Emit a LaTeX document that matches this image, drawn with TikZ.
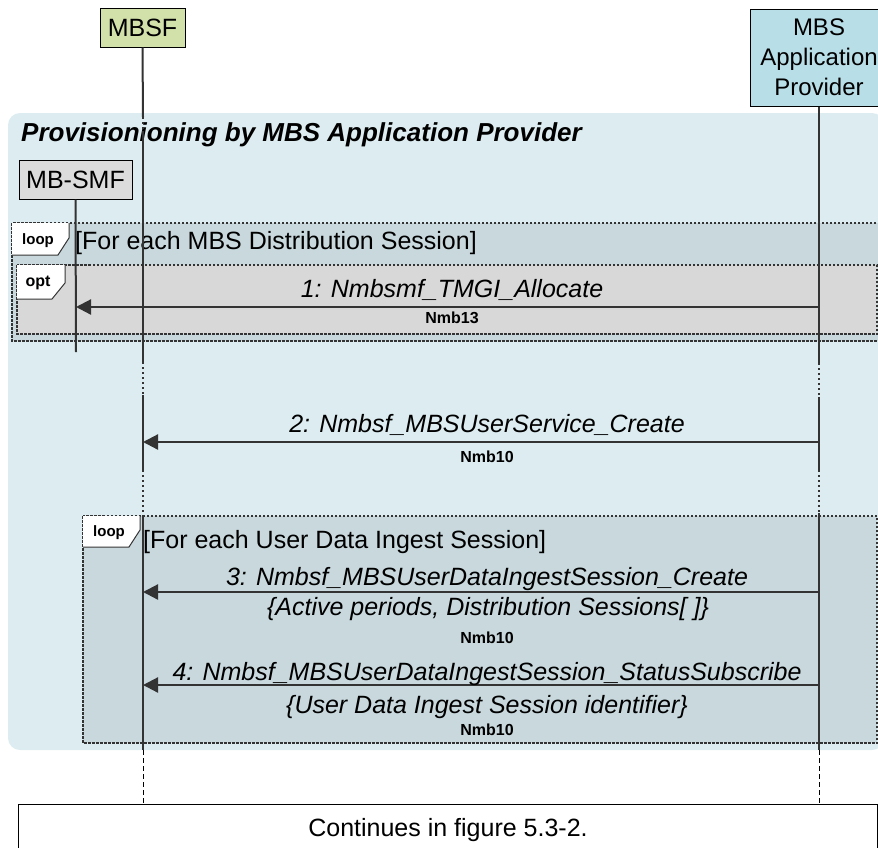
\documentclass[tikz,border=0pt]{standalone}
\usepackage{fontspec}
\setmainfont{Liberation Sans}
\usetikzlibrary{arrows.meta}
\definecolor{bgframe}{HTML}{DCECF0}
\definecolor{loopfill}{HTML}{C8D8DD}
\definecolor{optfill}{HTML}{D8D8D8}
\definecolor{greenbox}{HTML}{D2E1A9}
\definecolor{bluebox}{HTML}{B8DEE8}
\definecolor{graybox}{HTML}{DCDCDC}
\definecolor{ink}{HTML}{333333}
\begin{document}
\begin{tikzpicture}[x=1pt,y=-1pt,
  big/.style={font=\fontsize{25}{30}\selectfont},
  actor/.style={draw=black, line width=1pt, inner sep=0pt, big, align=center},
  life/.style={draw=ink, line width=2pt},
  lifedot/.style={draw=ink, line width=2pt, dash pattern=on 2pt off 3pt},
  lifedash/.style={draw=black, line width=1pt, dash pattern=on 5pt off 3pt},
  frameb/.style={draw=ink, line width=1.5pt, dash pattern=on 2.5pt off 1.5pt},
  tagbox/.style={fill=white, draw=ink, line width=1pt},
  msg/.style={draw=ink, line width=2.2pt, -{Triangle[length=15pt,width=15pt]}},
  mlabel/.style={font=\fontsize{25}{30}\selectfont\itshape, inner sep=0pt, anchor=base},
  iface/.style={font=\fontsize{16}{18}\selectfont\bfseries, inner sep=0pt, anchor=base},
  tagtext/.style={font=\fontsize{15}{18}\selectfont\bfseries, inner sep=0pt}
]
\useasboundingbox (0,0) rectangle (878,847);

% big frame
\fill[bgframe, rounded corners=12pt] (8,113) rectangle (884,750);

% loop 1 and opt
\fill[loopfill] (12,223) rectangle (884,341);
\fill[optfill] (17,265) rectangle (877,334);
\draw[frameb] (884,223) -- (12,223) -- (12,341) -- (884,341);
\draw[frameb] (17,265) rectangle (877,334);
% loop 2
\fill[loopfill] (83,516) rectangle (877,743);
\draw[frameb] (83,516) rectangle (877,743);

% tags
\fill[white] (12,223) -- (69,223) -- (69,238) -- (58,255) -- (12,255) -- cycle;
\draw[tagbox] (12,255) -- (58,255) -- (69,238) -- (69,223);
\node[tagtext] (tagl1) at (38,241) {loop};
\fill[white] (17,265) -- (65,265) -- (65,283) -- (52,299) -- (17,299) -- cycle;
\draw[tagbox] (17,299) -- (52,299) -- (65,283) -- (65,265);
\node[tagtext, font=\fontsize{16}{18}\selectfont\bfseries] (tago) at (38,283) {opt};
\fill[white] (83,516) -- (140,516) -- (140,530) -- (129,547) -- (83,547) -- cycle;
\draw[tagbox] (83,547) -- (129,547) -- (140,530) -- (140,516);
\node[tagtext] (tagl2) at (109,533) {loop};

% title and guards
\node[anchor=base west, inner sep=0pt, font=\fontsize{26}{30}\selectfont\bfseries\itshape] (title) at (21,141) {Provisionioning by MBS Application Provider};
\node[anchor=base west, inner sep=0pt, big] (g1) at (75,249) {[For each MBS Distribution Session]};
\node[anchor=base west, inner sep=0pt, big] (g2) at (143,548) {[For each User Data Ingest Session]};

% actors
\node[actor, fill=greenbox, minimum width=85pt, minimum height=39pt] (mbsf) at (142.5,27.5) {MBSF};
\node[actor, fill=bluebox, minimum width=138pt, minimum height=97pt, font=\fontsize{24}{30}\selectfont] (app) at (819,57.5) {MBS\\Application\\Provider};
\node[actor, fill=graybox, minimum width=113pt, minimum height=39pt] (mbsmf) at (75.5,179.5) {MB-SMF};

% lifelines MBSF
\draw[life] (mbsf.south) -- (143,117);
\draw[lifedot] (143,117) -- (143,131);
\draw[life] (143,131) -- (143,362);
\draw[lifedot] (143,362) -- (143,395);
\draw[life] (143,395) -- (143,470);
\draw[lifedot] (143,470) -- (143,515);
\draw[life] (143,515) -- (143,750);
\draw[lifedash] (143,750) -- (143,804);
% lifelines provider
\draw[life] (app.south) -- (819,363);
\draw[lifedot] (819,363) -- (819,397);
\draw[life] (819,397) -- (819,470);
\draw[lifedot] (819,470) -- (819,513);
\draw[life] (819,513) -- (819,750);
\draw[lifedash] (819,750) -- (819,804);
% lifeline MB-SMF
\draw[life] (mbsmf.south) -- (76,352);

% messages
\coordinate (a1) at (819,307); \coordinate (b1) at (76,307);
\coordinate (a2) at (819,442); \coordinate (b2) at (143,442);
\coordinate (a3) at (819,592); \coordinate (b3) at (143,592);
\coordinate (a4) at (819,685); \coordinate (b4) at (143,685);
\draw[msg] (a1) -- (b1);
\draw[msg] (a2) -- (b2);
\draw[msg] (a3) -- (b3);
\draw[msg] (a4) -- (b4);

\node[mlabel] (l1) at (452,297) {1: Nmbsmf\_TMGI\_Allocate};
\node[iface] (i1) at (452,323) {Nmb13};
\node[mlabel] (l2) at (487,432) {2: Nmbsf\_MBSUserService\_Create};
\node[iface] (i2) at (487,462) {Nmb10};
\node[mlabel] (l3) at (487,585) {3: Nmbsf\_MBSUserDataIngestSession\_Create};
\node[mlabel] (l3b) at (488,615) {\{Active periods, Distribution Sessions[ ]\}};
\node[iface] (i3) at (487,643) {Nmb10};
\node[mlabel] (l4) at (487,680) {4: Nmbsf\_MBSUserDataIngestSession\_StatusSubscribe};
\node[mlabel] (l4b) at (487,713) {\{User Data Ingest Session identifier\}};
\node[iface] (i4) at (487,735) {Nmb10};

% continuation box
\draw[fill=white, line width=1pt] (18,804) rectangle (877,860);
\node[big, inner sep=0pt] (cont) at (448,830) {Continues in figure 5.3-2.};
\end{tikzpicture}
\end{document}
